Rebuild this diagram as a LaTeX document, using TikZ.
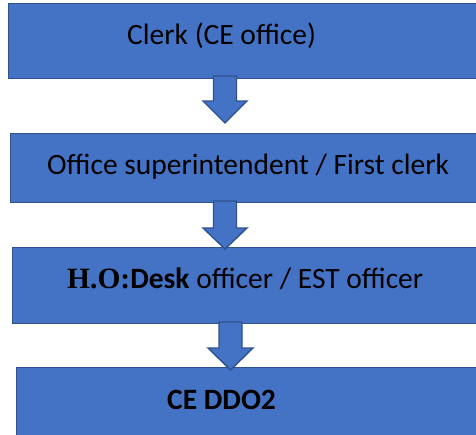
\documentclass[tikz,border=0pt]{standalone}
\usepackage{fontspec}
\setmainfont{Carlito}
\newfontfamily\serifbold{Liberation Serif}
\definecolor{boxfill}{HTML}{4472C4}
\definecolor{boxline}{HTML}{2F528F}
\tikzset{
  flowbox/.style={draw=boxline, fill=boxfill, line width=1.4pt, anchor=north west,
    inner sep=0pt, minimum width=480pt},
  flowtext/.style={anchor=base west, inner sep=0pt, font=\fontsize{29.5}{31}\selectfont, text=black},
  blockarrow/.style={draw=boxline, fill=boxfill, line width=1.4pt, line join=miter},
}
% block arrow pointing down: centre x, top y, head start y, tip y, half shaft, half head
\newcommand{\flowarrow}[6]{%
  \draw[blockarrow] ({#1-#5},#2) -- ({#1+#5},#2) -- ({#1+#5},#3) -- ({#1+#6},#3)
    -- (#1,#4) -- ({#1-#6},#3) -- ({#1-#5},#3) -- cycle;}
\begin{document}
\begin{tikzpicture}[x=1pt, y=-1pt]
  \useasboundingbox (0,0) rectangle (476,434);
  \clip (0,0) rectangle (476,434);

  % boxes of the four levels
  \node[flowbox, minimum height=75pt] (clerk) at (8,3) {};
  \node[flowbox, minimum height=69pt] (super) at (10,133) {};
  \node[flowbox, minimum height=76pt] (desk) at (12,247) {};
  \node[flowbox, minimum height=110pt] (ddo) at (16,367) {};

  % arrows between the levels
  \flowarrow{225}{76}{101}{123}{11.5}{22}
  \flowarrow{225}{201}{228}{249}{11.5}{22}
  \flowarrow{230.5}{322}{348}{370}{11.5}{22.5}

  % labels
  \node[flowtext] (t1) at (127,44) {Clerk (CE office)};
  \node[flowtext] (t2) at (47,174) {Office superintendent / First clerk};
  \node[flowtext] (t3) at (67,288) {{\serifbold\bfseries H.O:}\textbf{Desk} officer / EST officer};
  \node[flowtext] (t4) at (167,409) {\textbf{CE DDO2}};
\end{tikzpicture}
\end{document}
